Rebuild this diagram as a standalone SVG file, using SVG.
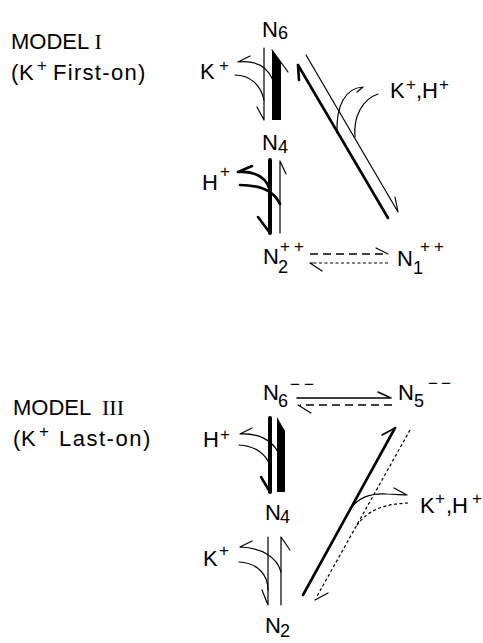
<svg xmlns="http://www.w3.org/2000/svg" width="483" height="643" viewBox="0 0 483 643">
<style>
.t{font-family:"Liberation Sans",Arial,sans-serif;font-size:22px;fill:#000}
.s{font-size:18px}
.p{font-size:17px}
.rn{font-family:"Liberation Serif","Times New Roman",serif}
.ln{fill:none;stroke:#000;stroke-width:1.2;stroke-linecap:round;stroke-linejoin:round}
.tk{stroke-width:2.6}
.xt{stroke-width:4}
.dl{stroke-dasharray:8 5;stroke-linecap:butt}
.ds{stroke-dasharray:3 2.5;stroke-linecap:butt}
.fl{fill:#000;stroke:none}
</style>
<rect width="483" height="643" fill="#fff"/>

<!-- MODEL I -->
<g id="m1-title">
<text class="t" x="11" y="49">MODEL <tspan class="rn">I</tspan></text>
<text class="t"><tspan x="11" y="80">(</tspan><tspan x="19" y="80">K</tspan><tspan class="p" x="37" y="71">+</tspan><tspan x="53" y="80" style="letter-spacing:1.3px">First-on)</tspan></text>
</g>
<g id="m1-N6"><text class="t"><tspan x="262" y="37">N</tspan><tspan class="s" x="278" y="39">6</tspan></text></g>
<g id="m1-N4"><text class="t"><tspan x="262" y="150">N</tspan><tspan class="s" x="278" y="153">4</tspan></text></g>
<g id="m1-N2"><text class="t"><tspan x="263" y="264">N</tspan><tspan class="s" x="278" y="273">2</tspan><tspan class="p" x="280" y="252" style="letter-spacing:4px">++</tspan></text></g>
<g id="m1-N1"><text class="t"><tspan x="397" y="266">N</tspan><tspan class="s" x="413" y="274">1</tspan><tspan class="p" x="420" y="252" style="letter-spacing:4px">++</tspan></text></g>
<g id="m1-K"><text class="t"><tspan x="200" y="79">K</tspan><tspan class="p" x="219" y="71">+</tspan></text></g>
<g id="m1-H"><text class="t"><tspan x="202" y="190">H</tspan><tspan class="p" x="220" y="177">+</tspan></text></g>
<g id="m1-KH"><text class="t"><tspan x="390" y="98">K</tspan><tspan class="p" x="406" y="90">+</tspan><tspan x="416" y="98">,H</tspan><tspan class="p" x="439" y="90">+</tspan></text></g>

<!-- MODEL III -->
<g id="m3-title">
<text class="t" x="13" y="415">MODEL <tspan class="rn" x="102">III</tspan></text>
<text class="t"><tspan x="13" y="446">(</tspan><tspan x="21" y="446">K</tspan><tspan class="p" x="39" y="437">+</tspan><tspan x="59" y="446" style="letter-spacing:1.5px">Last-on)</tspan></text>
</g>
<g id="m3-N6"><text class="t"><tspan x="263" y="400">N</tspan><tspan class="s" x="278" y="407">6</tspan><tspan class="p" x="290" y="390" style="letter-spacing:4px">−−</tspan></text></g>
<g id="m3-N5"><text class="t"><tspan x="398" y="400">N</tspan><tspan class="s" x="414" y="407">5</tspan><tspan class="p" x="428" y="389" style="letter-spacing:3px">−−</tspan></text></g>
<g id="m3-N4"><text class="t"><tspan x="265" y="520">N</tspan><tspan class="s" x="280" y="523">4</tspan></text></g>
<g id="m3-N2"><text class="t"><tspan x="265" y="633">N</tspan><tspan class="s" x="280" y="637">2</tspan></text></g>
<g id="m3-H"><text class="t"><tspan x="203" y="447">H</tspan><tspan class="p" x="220" y="440">+</tspan></text></g>
<g id="m3-K"><text class="t"><tspan x="203" y="566">K</tspan><tspan class="p" x="219" y="556">+</tspan></text></g>
<g id="m3-KH"><text class="t"><tspan x="420" y="513">K</tspan><tspan class="p" x="435" y="504">+</tspan><tspan x="446" y="513">,H</tspan><tspan class="p" x="472" y="504">+</tspan></text></g>

<g id="connectors">
<!-- Model I: N6 <-> N4 -->
<path class="ln" d="M264,48 V120 M257,107 L264,120"/>
<polygon class="fl" points="272,50 281,62 281,120 272,120"/>
<path class="ln" d="M272,50 L288,72"/>
<path class="ln" d="M238,62 L250,56 M238,62 C256,60 267,66 273,80"/>
<path class="ln" d="M235,75 C250,75 261,85 264,100"/>
<!-- Model I: N4 <-> N2 -->
<path class="ln xt" d="M270,160 V233"/>
<path class="ln tk" d="M258,217 L270,233"/>
<path class="ln" d="M280,233 V161 M280,161 L286,174"/>
<path class="ln tk" d="M238,172 L252,166 M238,172 C255,171 266,177 270,190"/>
<path class="ln tk" d="M240,185 C259,185 274,191 280,204"/>
<!-- Model I: N6 <-> N1 -->
<path class="ln tk" d="M298,65 L388,218"/>
<path class="ln tk" d="M298,65 L299,80"/>
<path class="ln" d="M306,55 L398,212 M398,212 L395,197"/>
<path class="ln" d="M337,133 C336,106 345,88 363,87 M363,87 L357,92"/>
<path class="ln" d="M378,94 C363,99 353,116 355,137"/>
<!-- Model I: N2 <-> N1 -->
<path class="ln dl" style="stroke-width:1.5" d="M310,254 H386"/>
<path class="ln" d="M376,248 L388,254"/>
<path class="ln ds" d="M388,263 H312"/>
<path class="ln" d="M310,263 H313 M310,263 L322,271"/>

<!-- Model III: N6 <-> N5 -->
<path class="ln" style="stroke-width:1.5" d="M297,398 H391 M378,392 L391,398"/>
<path class="ln dl" style="stroke-width:1.4" d="M392,405 H300"/>
<path class="ln" d="M298,405 L311,413"/>
<!-- Model III: N6 <-> N4 -->
<path class="ln xt" d="M270,418 V492"/>
<path class="ln tk" d="M261,477 L270,492"/>
<polygon class="fl" points="277,417 285,431 285,492 277,492"/>
<path class="ln" d="M240,434 L252,428 M240,434 C258,433 272,440 278,452"/>
<path class="ln" d="M239,445 C256,446 267,455 270,466"/>
<!-- Model III: N4 <-> N2 -->
<path class="ln" d="M268,537 V605 M262,590 L268,605"/>
<path class="ln" d="M281,605 V537 M281,537 L290,550"/>
<path class="ln" d="M240,547 L252,541 M240,547 C262,548 277,557 281,572"/>
<path class="ln" d="M239,562 C258,563 268,575 268,590"/>
<!-- Model III: N2 <-> N5 -->
<path class="ln tk" d="M303,595 L395,428"/>
<path class="ln" style="stroke-width:1.5" d="M395,428 L382,435"/>
<path class="ln ds" d="M410,430 L316,598"/>
<path class="ln" d="M315,600 L328,593"/>
<path class="ln" d="M351,508 C359,497 372,493 387,494 C395,494 401,495 407,495 M407,495 L394,488"/>
<path class="ln ds" d="M408,503 C387,504 368,508 355,528"/>
</g>
</svg>
